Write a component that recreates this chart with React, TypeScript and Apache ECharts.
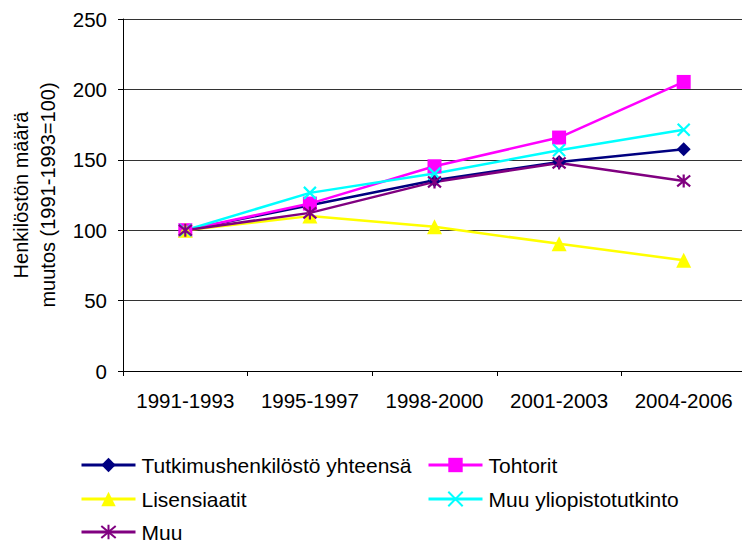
import React, { useEffect, useRef } from "react";
import * as echarts from "echarts";

const categories = ["1991-1993", "1995-1997", "1998-2000", "2001-2003", "2004-2006"];
const seriesNames = [
  "Tutkimushenkilöstö yhteensä",
  "Tohtorit",
  "Lisensiaatit",
  "Muu yliopistotutkinto",
  "Muu",
];
const tutkimus = [100, 117.7, 135.5, 148.5, 157.5];
const tohtorit = [100, 118.9, 145.4, 165.8, 205.3];
const lisensiaatit = [100, 110, 102.4, 90.3, 78.7];
const muuYliopisto = [100, 126.5, 140.2, 156.8, 171.4];
const muu = [100, 112.3, 134.3, 147.8, 135];
const yTicks = { min: 0, max: 250, interval: 50 };

const FONT = '"Liberation Sans", Arial, sans-serif';

export default function App() {
  const ref = useRef<HTMLDivElement>(null);
  useEffect(() => {
    document.body.style.margin = "0";
    if (!ref.current) return;
    const chart = echarts.init(ref.current, null, { renderer: "svg" });
    const xPath = "path://M0,0L10,10M10,0L0,10";
    const starPath = "path://M0,0L10,10M10,0L0,10M5,-1L5,11";
    const mk = (name: string, data: number[], color: string, symbol: string, size: number, stroke = false) => ({
      name,
      type: "line",
      data,
      symbol,
      symbolSize: size,
      lineStyle: { color, width: 2.5 },
      itemStyle: stroke
        ? { color: "rgba(0,0,0,0)", borderColor: color, borderWidth: 2.2 }
        : { color, borderWidth: 0 },
      emphasis: { disabled: true },
    });
    const legendPos: [number, number][] = [
      [80, 465],
      [427, 465],
      [80, 499],
      [427, 499],
      [80, 532],
    ];
    const legends = seriesNames.map((n, i) => ({
      data: [n],
      orient: "horizontal",
      left: legendPos[i][0],
      top: legendPos[i][1] - 11,
      padding: 0,
      itemWidth: 54,
      itemHeight: 18,
      itemGap: 0,
      lineStyle: { width: 3 },
      textStyle: { color: "#000", fontSize: 21, lineHeight: 22, fontFamily: FONT, padding: [0, 0, 0, 1] },
    }));
    chart.setOption({
      animation: false,
      textStyle: { fontFamily: FONT },
      grid: { left: 123, top: 19, width: 623, height: 352, containLabel: false, outerBoundsMode: "none" },
      xAxis: {
        type: "category",
        data: categories,
        boundaryGap: true,
        axisLine: { lineStyle: { color: "#000", width: 1 } },
        axisTick: { show: true, length: 5, lineStyle: { color: "#000" } },
        axisLabel: { color: "#000", fontSize: 20.5, margin: 19, interval: 0, fontFamily: FONT },
        splitLine: { show: false },
      },
      yAxis: {
        type: "value",
        min: yTicks.min,
        max: yTicks.max,
        interval: yTicks.interval,
        name: "Henkilöstön määrä\nmuutos (1991-1993=100)",
        nameLocation: "middle",
        nameGap: 62,
        nameRotate: 90,
        nameTextStyle: { color: "#000", fontSize: 20, lineHeight: 27, fontFamily: FONT },
        axisLine: { show: true, lineStyle: { color: "#000", width: 1 } },
        axisTick: { show: true, length: 5, lineStyle: { color: "#000" } },
        axisLabel: { color: "#000", fontSize: 20.5, margin: 16, fontFamily: FONT },
        splitLine: { show: true, lineStyle: { color: "#333", width: 1 } },
      },
      legend: legends,
      series: [
        mk(seriesNames[0], tutkimus, "#000080", "diamond", 14),
        mk(seriesNames[1], tohtorit, "#FF00FF", "rect", 14),
        mk(seriesNames[2], lisensiaatit, "#FFFF00", "triangle", 15),
        mk(seriesNames[3], muuYliopisto, "#00FFFF", xPath, 12, true),
        mk(seriesNames[4], muu, "#800080", starPath, 13, true),
      ],
    });
    return () => chart.dispose();
  }, []);
  return <div ref={ref} style={{ width: 742, height: 546 }} />;
}
